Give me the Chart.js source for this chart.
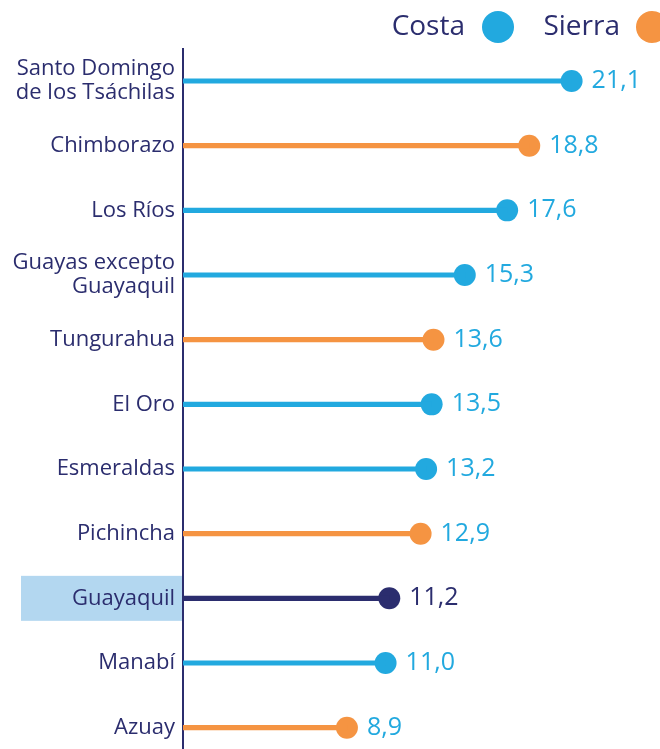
<!DOCTYPE html>
<html>
<head>
<meta charset="utf-8">
<script src="https://cdn.jsdelivr.net/npm/chart.js@4/dist/chart.umd.min.js"></script>
<style>
  html, body { margin: 0; padding: 0; background: #fff; overflow: hidden; }
  #chartContainer { position: relative; width: 660px; height: 760px; }
</style>
</head>
<body>
<div id="chartContainer"><canvas id="chartData"></canvas></div>
<script>
const categories = [
  ['Santo Domingo', 'de los Tsáchilas'],
  'Chimborazo',
  'Los Ríos',
  ['Guayas excepto', 'Guayaquil'],
  'Tungurahua',
  'El Oro',
  'Esmeraldas',
  'Pichincha',
  'Guayaquil',
  'Manabí',
  'Azuay'
];
const values = [21.1, 18.8, 17.6, 15.3, 13.6, 13.5, 13.2, 12.9, 11.2, 11.0, 8.9];
const valueLabels = ['21,1', '18,8', '17,6', '15,3', '13,6', '13,5', '13,2', '12,9', '11,2', '11,0', '8,9'];
const regions = ['Costa', 'Sierra', 'Costa', 'Costa', 'Sierra', 'Costa', 'Costa', 'Sierra', 'Guayaquil', 'Costa', 'Sierra'];
const legendItems = ['Costa', 'Sierra'];
const highlighted = 'Guayaquil';

const NAVY = '#2b2d6e';
const BLUE = '#22a9df';
const ORANGE = '#f59442';
const regionColor = { Costa: BLUE, Sierra: ORANGE, Guayaquil: NAVY };
const labelColor = { Costa: BLUE, Sierra: BLUE, Guayaquil: NAVY };
const FONT = "'Open Sans', sans-serif";

const colors = regions.map(r => regionColor[r]);

const decorations = {
  id: 'decorations',
  beforeDraw(chart) {
    // light blue box behind the highlighted category label
    const ctx = chart.ctx;
    const y = chart.scales.y;
    const idx = categories.indexOf(highlighted);
    const cy = y.getPixelForValue(idx);
    ctx.save();
    ctx.fillStyle = '#b3d7f0';
    ctx.fillRect(21, cy - 22.5, chart.chartArea.left - 22, 45);
    ctx.restore();
  },
  afterDraw(chart) {
    const ctx = chart.ctx;
    const meta = chart.getDatasetMeta(1);
    ctx.save();
    ctx.textBaseline = 'middle';
    ctx.textAlign = 'left';
    ctx.font = '25px ' + FONT;
    meta.data.forEach((pt, i) => {
      ctx.fillStyle = labelColor[regions[i]];
      ctx.fillText(valueLabels[i], pt.x + 20, pt.y);
    });

    // legend: text then circle
    ctx.font = '28px ' + FONT;
    const legendPos = [{ textRight: 465, cx: 498 }, { textRight: 620, cx: 652 }];
    legendItems.forEach((name, i) => {
      ctx.fillStyle = NAVY;
      ctx.textAlign = 'right';
      ctx.fillText(name, legendPos[i].textRight, 27);
      ctx.beginPath();
      ctx.arc(legendPos[i].cx, 27, 16, 0, Math.PI * 2);
      ctx.fillStyle = regionColor[name];
      ctx.fill();
    });
    ctx.restore();
  }
};

const ctx = document.getElementById('chartData').getContext('2d');
new Chart(ctx, {
  data: {
    labels: categories,
    datasets: [
      {
        type: 'bar',
        data: values,
        backgroundColor: colors,
        barThickness: 4.5,
        borderWidth: 0
      },
      {
        type: 'line',
        indexAxis: 'y',
        data: values,
        showLine: false,
        pointRadius: 11,
        pointHoverRadius: 11,
        pointBackgroundColor: colors,
        pointBorderWidth: 0,
        clip: false
      }
    ]
  },
  options: {
    indexAxis: 'y',
    responsive: true,
    maintainAspectRatio: false,
    animation: false,
    events: [],
    layout: { autoPadding: false, padding: { top: 48.7, right: 0, bottom: 0, left: 0 } },
    plugins: {
      legend: { display: false },
      tooltip: { enabled: false }
    },
    scales: {
      x: {
        display: false,
        min: 0,
        max: 25.9
      },
      y: {
        offset: true,
        afterFit(scale) {
          scale.width = 183;
          scale.paddingTop = 0;
          scale.paddingBottom = 0;
        },
        grid: { display: false, drawTicks: false },
        border: { display: true, color: NAVY, width: 2 },
        ticks: {
          color: NAVY,
          padding: 8,
          font: { family: FONT, size: 22, lineHeight: 1.1 }
        }
      }
    }
  },
  plugins: [decorations]
});
</script>
</body>
</html>
